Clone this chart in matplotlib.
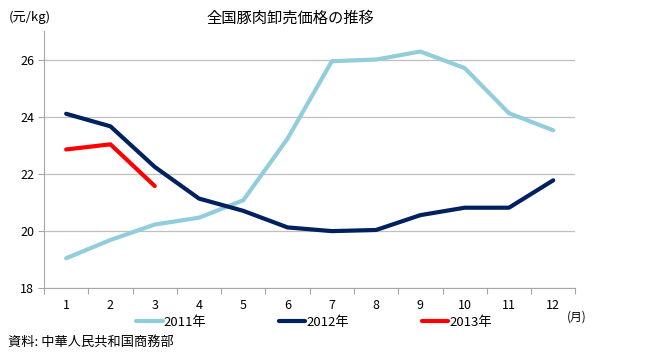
import matplotlib
matplotlib.use("Agg")
import matplotlib.pyplot as plt
import numpy as np

plt.rcParams['font.family'] = ['Noto Sans CJK JP', 'DejaVu Sans']

months = list(range(1, 13))
month_labels = [str(m) for m in months]
y2011 = [19.04, 19.68, 20.22, 20.46, 21.07, 23.23, 25.94, 26.00, 26.28, 25.70, 24.12, 23.52]
y2012 = [24.10, 23.66, 22.24, 21.13, 20.70, 20.12, 19.99, 20.03, 20.55, 20.81, 20.81, 21.77]
y2013 = [22.85, 23.03, 21.57]
yticks = [18, 20, 22, 24, 26]

fig = plt.figure(figsize=(6.52, 3.52), dpi=100)
ax = fig.add_axes([0.0675, 0.182, 0.815, 0.73])

ax.plot(months, y2011, color='#92CDDC', lw=3.0, solid_capstyle='round', label='2011年', zorder=3)
ax.plot(months, y2012, color='#002060', lw=3.0, solid_capstyle='round', label='2012年', zorder=3)
ax.plot(months[:3], y2013, color='#FF0000', lw=3.0, solid_capstyle='round', label='2013年', zorder=3)

ax.set_xlim(0.5, 12.5)
ax.set_ylim(18, 27)
ax.set_yticks(yticks)
ax.set_yticklabels([str(v) for v in yticks], fontsize=9)
ax.set_xticks(months)
ax.set_xticklabels(month_labels, fontsize=9)
ax.set_xticks(np.arange(0.5, 13, 1), minor=True)
ax.tick_params(axis='x', which='major', length=0, pad=8)
ax.tick_params(axis='x', which='minor', length=4, color='#A6A6A6', width=0.8)
ax.tick_params(axis='y', which='major', length=4, color='#A6A6A6', width=0.8, pad=3)
ax.grid(axis='y', color='#BFBFBF', lw=0.9)
ax.set_axisbelow(True)
for s in ['top', 'right']:
    ax.spines[s].set_visible(False)
for s in ['left', 'bottom']:
    ax.spines[s].set_color('#A6A6A6')
    ax.spines[s].set_linewidth(0.8)

fig.text(0.445, 0.948, '全国豚肉卸売価格の推移', fontsize=11, ha='center', va='center')
fig.text(0.013, 0.95, '(元/kg)', fontsize=9.5, ha='left', va='center')
fig.text(0.885, 0.10, '(月)', fontsize=8.5, ha='center', va='center')
fig.text(0.013, 0.028, '資料: 中華人民共和国商務部', fontsize=9.5, ha='left', va='center')

leg = fig.legend(loc='center', bbox_to_anchor=(0.482, 0.085), ncol=3, frameon=False,
                 fontsize=9.5, handlelength=2.0, handletextpad=0.1, columnspacing=5.5)

fig.savefig('out.png', dpi=100)
